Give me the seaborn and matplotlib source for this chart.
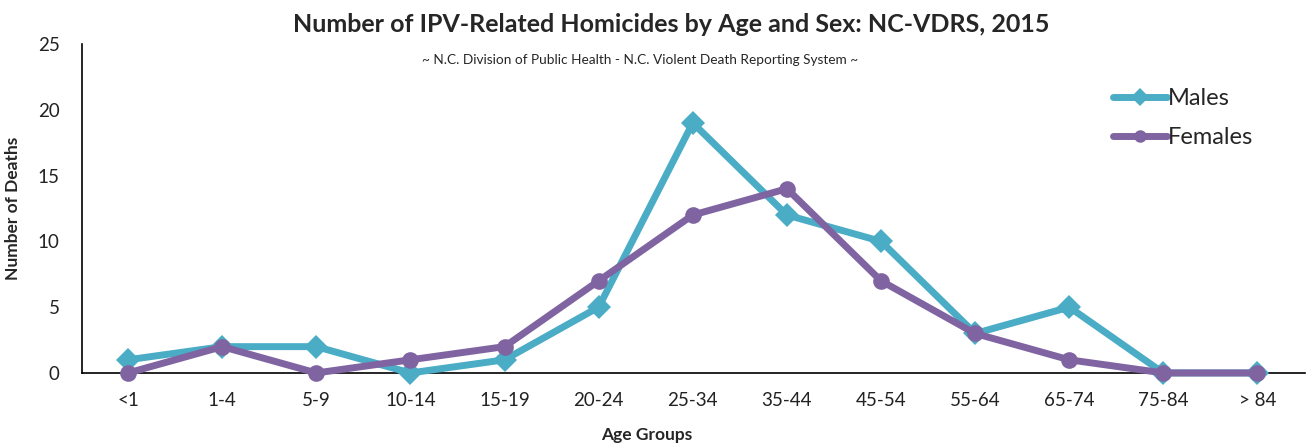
import matplotlib
matplotlib.use("Agg")
import matplotlib.pyplot as plt
import pandas as pd
import seaborn as sns

age_groups = ["<1", "1-4", "5-9", "10-14", "15-19", "20-24", "25-34",
              "35-44", "45-54", "55-64", "65-74", "75-84", "> 84"]
males = [1, 2, 2, 0, 1, 5, 19, 12, 10, 3, 5, 0, 0]
females = [0, 2, 0, 1, 2, 7, 12, 14, 7, 3, 1, 0, 0]

df = pd.DataFrame({
    "age": age_groups * 2,
    "pos": list(range(len(age_groups))) * 2,
    "deaths": males + females,
    "sex": ["Males"] * len(males) + ["Females"] * len(females),
})

sns.set_theme(style="white")
plt.rcParams["font.family"] = ["Lato", "DejaVu Sans"]

fig = plt.figure(figsize=(13.09, 4.44), dpi=100)
ax = fig.add_axes([0.0626, 0.16, 0.934, 0.741])

palette = {"Males": "#4BACC6", "Females": "#8064A2"}
sns.lineplot(data=df, x="pos", y="deaths", hue="sex", style="sex",
             markers={"Males": "D", "Females": "o"}, dashes=False,
             palette=palette, linewidth=5, markersize=12,
             markeredgewidth=0, ax=ax)
# markers sitting on zero should not be cut by the axis
for ln in ax.lines:
    ln.set_clip_on(False)
    ln.set_zorder(3)

ax.set_xlim(-0.49, 12.5)
ax.set_ylim(0, 25)
ax.set_yticks(range(0, 26, 5))
ax.set_xticks(range(len(age_groups)))
ax.set_xticklabels(age_groups)
ax.tick_params(axis="both", labelsize=13.5, length=0, colors="#222222")
ax.tick_params(axis="x", pad=14)
ax.tick_params(axis="y", pad=16)

for side in ["top", "right"]:
    ax.spines[side].set_visible(False)
for side in ["left", "bottom"]:
    ax.spines[side].set_color("black")
    ax.spines[side].set_linewidth(1.2)
    ax.spines[side].set_zorder(2)

ax.set_xlabel("Age Groups", fontsize=12.5, fontweight="bold")
ax.set_ylabel("Number of Deaths", fontsize=12.5, fontweight="bold", labelpad=12)
ax.xaxis.set_label_coords(0.462, -0.163)

fig.text(0.513, 0.945, "Number of IPV-Related Homicides by Age and Sex: NC-VDRS, 2015",
         ha="center", va="center", fontsize=18, fontweight="bold")
fig.text(0.489, 0.865, "~ N.C. Division of Public Health - N.C. Violent Death Reporting System ~",
         ha="center", va="center", fontsize=9.8)

leg = ax.legend(loc="upper right", bbox_to_anchor=(0.975, 0.93), frameon=False,
                fontsize=17, handlelength=2.3, handletextpad=0.0, labelspacing=0.75)
for h in leg.legend_handles:
    h.set_linewidth(5)
    h.set_markersize(9)

fig.savefig("out.png", dpi=100)
